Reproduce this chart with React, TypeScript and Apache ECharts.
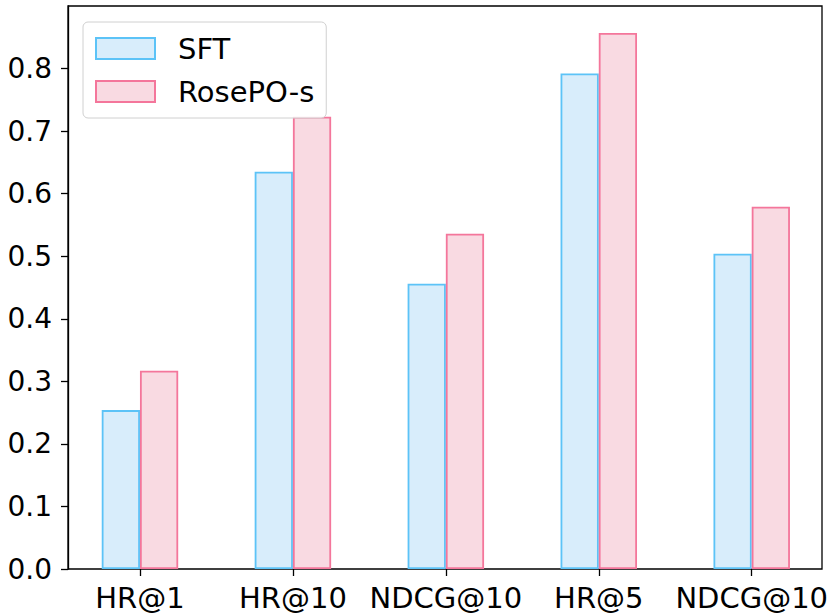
import React, { useEffect, useRef } from "react";
import * as echarts from "echarts";

const categories = ["HR@1", "HR@10", "NDCG@10", "HR@5", "NDCG@10"];
const sftValues = [0.254, 0.635, 0.456, 0.792, 0.504];
const roseValues = [0.317, 0.723, 0.536, 0.857, 0.579];
const seriesNames = ["SFT", "RosePO-s"];
const yTickFormat = (v: number) => v.toFixed(1);

const FONT = "DejaVu Sans";

export default function App() {
  const ref = useRef<HTMLDivElement>(null);
  useEffect(() => {
    document.body.style.margin = "0";
    const chart = echarts.init(ref.current!, null, { renderer: "svg" });
    chart.setOption({
      animation: false,
      backgroundColor: "#fff",
      textStyle: { fontFamily: FONT },
      grid: [
        {
          left: 68,
          right: 9,
          top: 6,
          bottom: 47,
          show: true,
          borderColor: "#000",
          borderWidth: 1.3,
          backgroundColor: "transparent",
        },
        { left: 63.5, width: 765, top: 6, bottom: 47 },
      ],
      legend: {
        orient: "vertical",
        left: 83,
        top: 22,
        itemWidth: 59,
        itemHeight: 21,
        itemGap: 14,
        padding: [12, 12, 12, 12],
        borderColor: "#d0d0d0",
        borderWidth: 1,
        borderRadius: 5,
        backgroundColor: "rgba(255,255,255,0.8)",
        icon: "rect",
        textStyle: { fontSize: 29, color: "#000", fontFamily: FONT, padding: [0, 0, 0, 18] },
        data: seriesNames,
        z: 10,
      },
      xAxis: [
        { type: "category", gridIndex: 0, data: categories, show: false },
        {
          type: "category",
          gridIndex: 1,
          data: categories,
          axisLine: { show: false },
          axisTick: { show: true, alignWithLabel: true, length: 7, lineStyle: { color: "#000", width: 1.3 } },
          axisLabel: { fontSize: 29, color: "#000", fontFamily: FONT, margin: 14, interval: 0 },
        },
      ],
      yAxis: [
        {
          type: "value",
          gridIndex: 0,
          min: 0,
          max: 0.9,
          interval: 0.1,
          axisLine: { show: true, lineStyle: { color: "#000", width: 1.3 } },
          axisTick: { show: true, length: 7, lineStyle: { color: "#000", width: 1.3 } },
          axisLabel: { fontSize: 28, color: "#000", fontFamily: FONT, margin: 16, formatter: yTickFormat, showMaxLabel: false },
          splitLine: { show: false },
        },
        { type: "value", gridIndex: 1, min: 0, max: 0.9, show: false, splitLine: { show: false } },
      ],
      series: [
        {
          name: seriesNames[0],
          type: "bar",
          xAxisIndex: 1,
          yAxisIndex: 1,
          data: sftValues,
          barWidth: "25%",
          barGap: "0%",
          itemStyle: { color: "#d8edfb", borderColor: "#5cc3f7", borderWidth: 1.8 },
        },
        {
          name: seriesNames[1],
          type: "bar",
          xAxisIndex: 1,
          yAxisIndex: 1,
          data: roseValues,
          barWidth: "25%",
          barGap: "0%",
          itemStyle: { color: "#f9dae2", borderColor: "#f4769b", borderWidth: 1.8 },
        },
      ],
    });
    return () => chart.dispose();
  }, []);
  return <div ref={ref} style={{ width: 831, height: 616 }} />;
}
